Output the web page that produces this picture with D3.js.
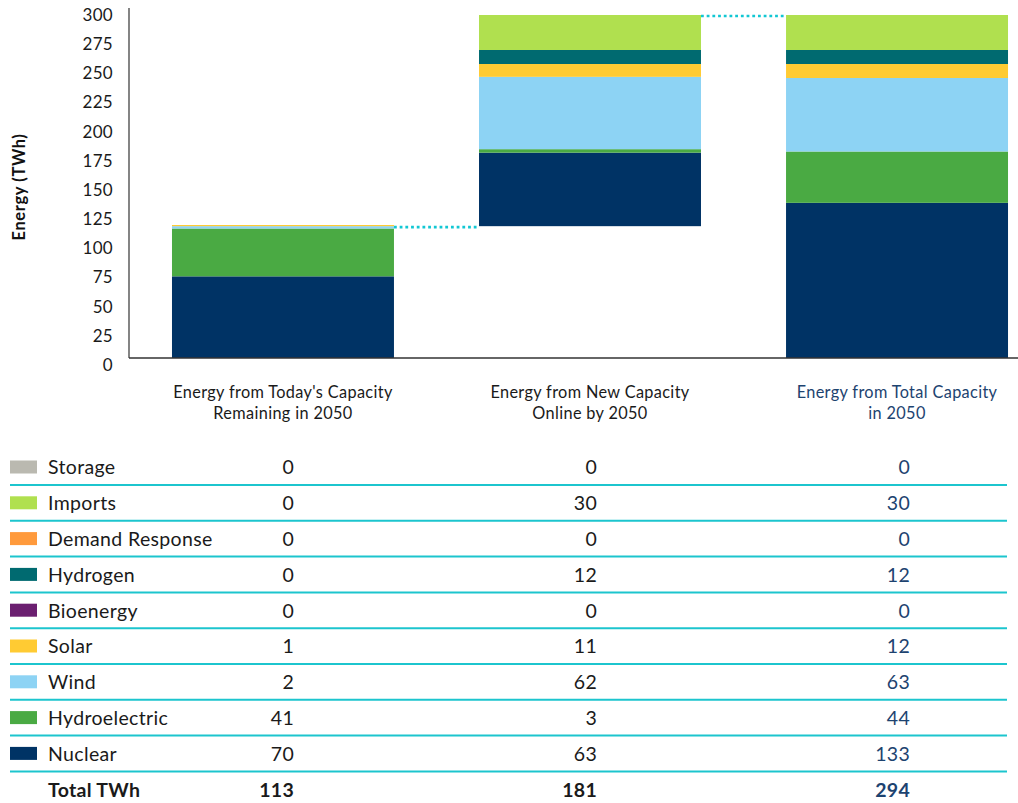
<!DOCTYPE html>
<html>
<head>
<meta charset="utf-8">
<script src="https://cdn.jsdelivr.net/npm/d3@7"></script>
<style>
  html, body { margin: 0; padding: 0; background: #ffffff; }
  svg { display: block; font-family: Lato, "Open Sans", sans-serif; }
</style>
</head>
<body>
<svg id="chart" width="1018" height="803"></svg>
<script>
// ---- data ----
const categoryLines = [
  ["Energy from Today's Capacity", "Remaining in 2050"],
  ["Energy from New Capacity", "Online by 2050"],
  ["Energy from Total Capacity", "in 2050"]
];
const sources = ["Storage", "Imports", "Demand Response", "Hydrogen", "Bioenergy", "Solar", "Wind", "Hydroelectric", "Nuclear"];
const sourceColors = ["#bab9b0", "#b0e04f", "#ff9a3c", "#006a70", "#6b1f70", "#ffcb33", "#8dd3f4", "#4aaa43", "#003365"];
const todayValues = [0, 0, 0, 0, 0, 1, 2, 41, 70];
const newValues = [0, 30, 0, 12, 0, 11, 62, 3, 63];
const totalValues = [0, 30, 0, 12, 0, 12, 63, 44, 133];
const columnTotals = [113, 181, 294];
const yTicks = [0, 25, 50, 75, 100, 125, 150, 175, 200, 225, 250, 275, 300];
const yTitle = "Energy (TWh)";
const totalLabel = "Total TWh";

// ---- setup ----
const svg = d3.select("#chart");
const columns = [todayValues, newValues, totalValues];
const bases = [0, columnTotals[0], 0];

const x = d3.scaleBand().domain([0, 1, 2]).range([129, 1051]).paddingInner(0.277).paddingOuter(0.14);
const y = d3.scaleLinear().domain([0, 300]).range([358, 8]);

// stacked bars (bottom = Nuclear ... top = Storage)
const stackOrder = d3.range(sources.length).reverse();
columns.forEach((vals, ci) => {
  let acc = bases[ci];
  const segs = [];
  stackOrder.forEach(si => {
    const v = vals[si];
    if (v > 0) segs.push({ si, y0: acc, y1: acc + v });
    acc += v;
  });
  svg.append("g").selectAll("rect").data(segs).join("rect")
    .attr("x", x(ci))
    .attr("width", x.bandwidth())
    .attr("y", d => y(d.y1))
    .attr("height", d => y(d.y0) - y(d.y1))
    .attr("fill", d => sourceColors[d.si]);
});

// dotted waterfall connectors
const connectors = [
  { from: 0, to: 1, v: columnTotals[0] },
  { from: 1, to: 2, v: columnTotals[2] }
];
svg.append("g").selectAll("line").data(connectors).join("line")
  .attr("x1", d => x(d.from) + x.bandwidth())
  .attr("x2", d => x(d.to))
  .attr("y1", d => y(d.v) + 1)
  .attr("y2", d => y(d.v) + 1)
  .attr("stroke", "#12c7d3")
  .attr("stroke-width", 2.6)
  .attr("stroke-dasharray", "2.8,2.9");

// axes lines
svg.append("line").attr("x1", 129).attr("x2", 129).attr("y1", y(300)).attr("y2", y(0))
  .attr("stroke", "#333").attr("stroke-width", 1.2);
svg.append("line").attr("x1", 129).attr("x2", 1018).attr("y1", y(0)).attr("y2", y(0))
  .attr("stroke", "#333").attr("stroke-width", 1.4);

// y tick labels
svg.append("g").selectAll("text").data(yTicks).join("text")
  .attr("x", 113)
  .attr("y", d => y(d) + 7)
  .attr("dy", "0.35em")
  .attr("text-anchor", "end")
  .attr("font-size", 17)
  .attr("letter-spacing", 0.3)
  .attr("fill", "#1a1a1a")
  .text(d => d);

// y title
svg.append("text")
  .attr("transform", "translate(25,187) rotate(-90)")
  .attr("text-anchor", "middle")
  .attr("font-size", 16.5)
  .attr("font-weight", 700)
  .attr("letter-spacing", 0.6)
  .attr("fill", "#111")
  .text(yTitle);

// column headers
const headerColors = ["#1a1a1a", "#1a1a1a", "#1d4370"];
categoryLines.forEach((lines, ci) => {
  const t = svg.append("text")
    .attr("text-anchor", "middle")
    .attr("font-size", 16.3)
    .attr("letter-spacing", 0.35)
    .attr("fill", headerColors[ci]);
  lines.forEach((ln, li) => {
    t.append("tspan")
      .attr("x", x(ci) + x.bandwidth() / 2)
      .attr("y", 392 + li * 21)
      .attr("dy", "0.35em")
      .text(ln);
  });
});

// table
const rowY = d3.scaleLinear().domain([0, 1]).range([467.5, 467.5 + 35.8]);
const valueX = [294, 597, 910];
const valueColors = ["#1a1a1a", "#1a1a1a", "#1d4370"];

sources.forEach((s, si) => {
  const cy = rowY(si);
  svg.append("rect").attr("x", 10).attr("y", cy - 7).attr("width", 27).attr("height", 13)
    .attr("fill", sourceColors[si]);
  svg.append("text").attr("x", 48).attr("y", cy).attr("dy", "0.35em")
    .attr("font-size", 19.5).attr("letter-spacing", 0.35).attr("fill", "#1a1a1a").text(s);
  columns.forEach((vals, ci) => {
    svg.append("text").attr("x", valueX[ci]).attr("y", cy).attr("dy", "0.35em")
      .attr("text-anchor", "end").attr("font-size", 19.5).attr("letter-spacing", 0.3)
      .attr("fill", valueColors[ci])
      .text(vals[si]);
  });
  svg.append("line").attr("x1", 10).attr("x2", 1007)
    .attr("y1", cy + 17.5).attr("y2", cy + 17.5)
    .attr("stroke", "#1cc5ce").attr("stroke-width", 2);
});

// totals row
const ty = rowY(sources.length);
svg.append("text").attr("x", 48).attr("y", ty).attr("dy", "0.35em")
  .attr("font-size", 19.5).attr("font-weight", 700).attr("letter-spacing", 0.3)
  .attr("fill", "#1a1a1a").text(totalLabel);
columnTotals.forEach((v, ci) => {
  svg.append("text").attr("x", valueX[ci]).attr("y", ty).attr("dy", "0.35em")
    .attr("text-anchor", "end").attr("font-size", 19.5).attr("font-weight", 700)
    .attr("letter-spacing", 0.3)
    .attr("fill", valueColors[ci]).text(v);
});
</script>
</body>
</html>
